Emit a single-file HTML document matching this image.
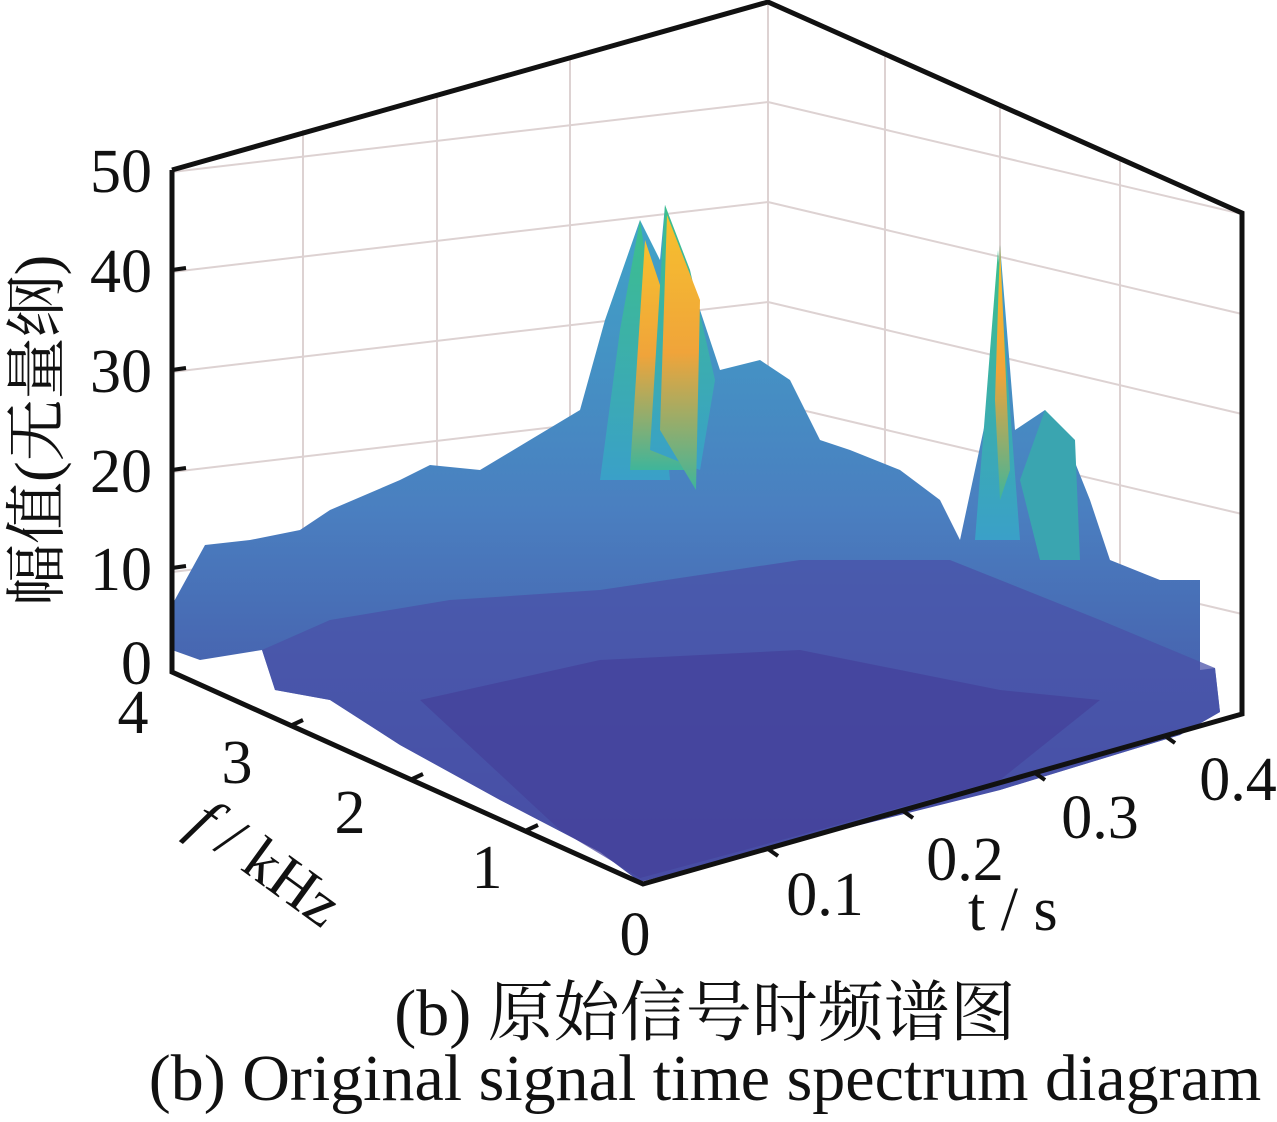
<!DOCTYPE html>
<html><head><meta charset="utf-8"><style>
html,body{margin:0;padding:0;background:#fff;}
svg text{font-family:"Liberation Serif","Noto Serif CJK SC",serif;fill:#111;}
</style></head><body>
<svg width="1277" height="1117" viewBox="0 0 1277 1117" xmlns="http://www.w3.org/2000/svg">
<defs>
<linearGradient id="surf" x1="0" y1="0" x2="0" y2="1">
<stop offset="0" stop-color="#3fa5c8"/><stop offset="0.45" stop-color="#4a7fc0"/><stop offset="1" stop-color="#43409a"/>
</linearGradient>
<linearGradient id="pk" x1="0" y1="0" x2="0" y2="1">
<stop offset="0" stop-color="#f6c12e"/><stop offset="0.5" stop-color="#f0a43a"/><stop offset="1" stop-color="#3fb59a"/>
</linearGradient>
<linearGradient id="pg" x1="0" y1="0" x2="0" y2="1">
<stop offset="0" stop-color="#3dbf8c"/><stop offset="1" stop-color="#3aa0c8"/>
</linearGradient>
</defs>
<g stroke="#ddd2d2" stroke-width="2" fill="none">
<polyline points="172,572 768,502 1242,614"/>
<polyline points="172,472 768,402 1242,514"/>
<polyline points="172,372 768,302 1242,414"/>
<polyline points="172,272 768,202 1242,314"/>
<polyline points="172,172 768,102 1242,214"/>
<line x1="303" y1="130" x2="303" y2="655"/>
<line x1="437" y1="93" x2="437" y2="640"/>
<line x1="570" y1="56" x2="570" y2="625"/>
<line x1="768" y1="2" x2="768" y2="602"/>
<line x1="885" y1="55" x2="885" y2="630"/>
<line x1="1000" y1="107" x2="1000" y2="657"/>
<line x1="1120" y1="160" x2="1120" y2="685"/>
</g>
<polygon fill="url(#surf)" points="172,605 205,545 250,540 300,530 330,510 400,480 430,465 480,470 530,440 580,410 605,320 640,220 660,260 665,205 700,310 720,370 760,360 790,380 820,440 850,450 900,470 940,500 960,540 990,400 1000,245 1015,430 1045,410 1070,450 1090,500 1110,560 1160,580 1200,580 1200,670 1215,668 1220,712 1180,735 1000,790 800,840 640,882 600,852 500,800 400,745 330,700 275,690 262,650 200,660 172,650"/>
<polygon fill="#4a52a8" opacity="0.75" points="262,650 330,620 450,600 600,590 800,560 950,560 1100,620 1215,668 1220,712 1180,735 1000,790 800,840 640,882 600,852 500,800 400,745 330,700 275,690"/>
<polygon fill="#44409a" opacity="0.7" points="420,700 600,660 800,650 1000,690 1100,700 1000,780 800,835 640,878 560,830"/>
<polygon fill="url(#pg)" points="600,480 620,330 640,220 655,320 670,480"/>
<polygon fill="url(#pk)" points="630,470 645,240 665,300 690,470"/>
<polygon fill="url(#pg)" points="650,450 665,205 690,270 715,380 700,470"/>
<polygon fill="url(#pk)" points="660,430 667,215 700,300 696,490"/>
<polygon fill="url(#pg)" points="975,540 998,250 1020,540"/>
<polygon fill="url(#pk)" points="995,400 1000,245 1010,470 1000,500"/>
<polygon fill="#3aa5b0" points="1020,480 1045,410 1075,440 1080,560 1040,560"/>
<g stroke="#111" stroke-width="5" fill="none" stroke-linejoin="miter">
<polyline points="172,170 172,672 643,884 1242,714 1242,213 768,2 172,170"/>
</g>
<g stroke="#111" stroke-width="4">
<line x1="172" y1="568" x2="186" y2="566"/><line x1="172" y1="470" x2="186" y2="468"/><line x1="172" y1="370" x2="186" y2="368"/><line x1="172" y1="270" x2="186" y2="268"/>
<line x1="290" y1="726" x2="303" y2="720"/><line x1="410" y1="780" x2="423" y2="774"/><line x1="525" y1="831" x2="538" y2="825"/>
<line x1="768" y1="849" x2="778" y2="856"/><line x1="903" y1="811" x2="913" y2="818"/><line x1="1035" y1="773" x2="1045" y2="780"/><line x1="1165" y1="736" x2="1175" y2="743"/>
</g>
<g font-size="62" text-anchor="end">
<text x="152" y="192">50</text><text x="152" y="292">40</text><text x="152" y="392">30</text><text x="152" y="492">20</text><text x="152" y="590">10</text><text x="152" y="684">0</text>
</g>
<g font-size="62" text-anchor="middle">
<text x="133" y="733">4</text><text x="237" y="783">3</text><text x="350" y="833">2</text><text x="487" y="888">1</text><text x="635" y="955">0</text>
<text x="825" y="915">0.1</text><text x="965" y="880">0.2</text><text x="1100" y="838">0.3</text><text x="1238" y="800">0.4</text>
</g>
<text font-size="62" transform="translate(186,830) rotate(36)"><tspan font-style="italic">f</tspan> / kHz</text>
<text font-size="62" x="968" y="930">t / s</text>
<text font-size="62" transform="translate(58,606) rotate(-90)">幅值(无量纲)</text>
<text font-size="66" x="705" y="1035" text-anchor="middle">(b)  原始信号时频谱图</text>
<text font-size="66" x="705" y="1100" text-anchor="middle">(b)  Original signal time spectrum diagram</text>
</svg>
</body></html>
